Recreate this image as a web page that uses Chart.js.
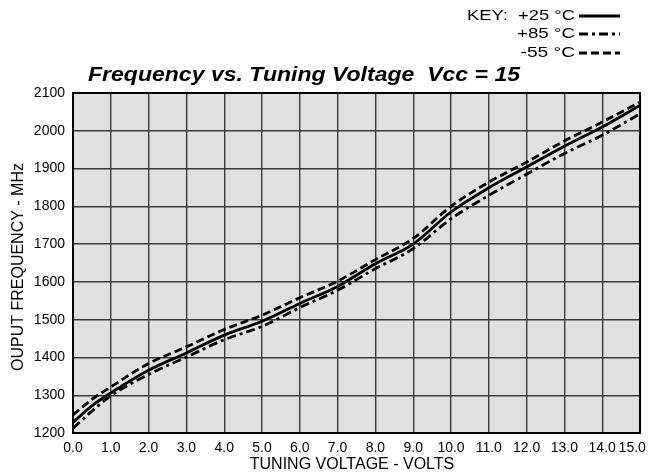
<!DOCTYPE html>
<html>
<head>
<meta charset="utf-8">
<script src="https://cdn.jsdelivr.net/npm/chart.js@4/dist/chart.umd.min.js"></script>
<style>
html,body{margin:0;padding:0;background:#fff;}
#wrap{width:648px;height:476px;position:relative;}
</style>
</head>
<body>
<div id="wrap"><canvas id="c" width="648" height="476"></canvas></div>
<script>
// ---- data ----
const voltage = [0, 0.5, 1, 2, 3, 4, 5, 6, 7, 8, 9, 10, 11, 12, 13, 14, 15];
const freq25 = [1228, 1272, 1306, 1366, 1412, 1459, 1496, 1543, 1588, 1648, 1700, 1785, 1849, 1904, 1959, 2010, 2067];
const freq85 = [1212, 1258, 1298, 1355, 1401, 1447, 1482, 1532, 1578, 1635, 1688, 1767, 1829, 1885, 1940, 1988, 2045];
const freqM55 = [1248, 1289, 1322, 1384, 1428, 1474, 1512, 1558, 1602, 1659, 1715, 1800, 1864, 1917, 1973, 2023, 2076];
const seriesLabels = ['+25 °C', '+85 °C', '-55 °C'];
const titleText = 'Frequency vs. Tuning Voltage  Vcc = 15';
const xTitle = 'TUNING VOLTAGE - VOLTS';
const yTitle = 'OUPUT FREQUENCY - MHz';

const tickFont = {family: "'Liberation Sans', Arial, Helvetica, sans-serif", size: 14};

function pts(arr){ return voltage.map((v,i)=>({x:v, y:arr[i]})); }

const dashes = [[], [9,4,3,4], [8,4]];

function stretchText(ctx, text, xRef, y, targetWidth, align){
  const w = ctx.measureText(text).width;
  const sx = targetWidth / w;
  ctx.save();
  ctx.translate(xRef, y);
  ctx.scale(sx, 1);
  ctx.textAlign = align;
  ctx.fillText(text, 0, 0);
  ctx.restore();
}

const bgPlugin = {
  id: 'bg',
  beforeDraw(chart){
    const {ctx, chartArea:a} = chart;
    ctx.save();
    ctx.fillStyle = '#e0e0e0';
    ctx.fillRect(a.left, a.top, a.right-a.left, a.bottom-a.top);
    ctx.restore();
  },
  afterDraw(chart){
    const {ctx, chartArea:a} = chart;
    ctx.save();
    ctx.strokeStyle = '#000';
    ctx.lineWidth = 2;
    ctx.strokeRect(a.left, a.top, a.right-a.left, a.bottom-a.top);
    // title
    ctx.fillStyle = '#000';
    ctx.font = "italic bold 20px 'Liberation Sans', Arial, sans-serif";
    ctx.textBaseline = 'alphabetic';
    stretchText(ctx, titleText, 88, 81, 432, 'left');
    // axis titles
    ctx.font = "16px 'Liberation Sans', Arial, sans-serif";
    ctx.textAlign = 'center';
    ctx.textBaseline = 'middle';
    ctx.fillText(xTitle, 352, 465);
    ctx.save();
    ctx.translate(19, (a.top+a.bottom)/2 + 4);
    ctx.rotate(-Math.PI/2);
    ctx.fillText(yTitle, 0, 0);
    ctx.restore();
    // key
    ctx.font = "15px 'Liberation Sans', Arial, sans-serif";
    ctx.textBaseline = 'middle';
    const rows = [15.5, 33.5, 52.5];
    const widths = [108, 58, 54.5];
    chart.data.datasets.forEach((ds, i) => {
      const y = rows[i];
      const label = (i===0 ? 'KEY:  ' : '') + ds.label;
      stretchText(ctx, label, 575, y, widths[i], 'right');
      ctx.beginPath();
      ctx.setLineDash(ds.borderDash || []);
      ctx.lineWidth = 3;
      ctx.strokeStyle = '#000';
      ctx.moveTo(579, y+0.5);
      ctx.lineTo(620, y+0.5);
      ctx.stroke();
    });
    ctx.restore();
  }
};

new Chart(document.getElementById('c'), {
  type: 'line',
  data: {
    datasets: [freq25, freq85, freqM55].map((arr, i) => ({
      label: seriesLabels[i],
      data: pts(arr),
      borderColor: '#000',
      borderWidth: 2.8,
      borderDash: dashes[i],
      pointRadius: 0,
      fill: false,
      cubicInterpolationMode: 'monotone'
    }))
  },
  options: {
    responsive: false,
    animation: false,
    devicePixelRatio: 1,
    layout: {padding: {top: 93, right: 8, left: 0, bottom: 0}},
    plugins: {legend: {display: false}, tooltip: {enabled: false}, title: {display: false}},
    scales: {
      x: {
        type: 'linear', min: 0, max: 15,
        ticks: {stepSize: 1, color: '#000', font: tickFont, padding: 7, maxRotation: 0, autoSkip: false,
          callback: v => Number(v).toFixed(1) + (v === 15 ? '\u2007\u2007' : '')},
        grid: {color: '#3a3a3a', lineWidth: 1.4, drawTicks: false},
        border: {display: true, color: '#000', width: 2},
        afterFit(s){ s.height = 43; s.paddingLeft = 0; s.paddingRight = 0; }
      },
      y: {
        type: 'linear', min: 1200, max: 2100,
        ticks: {stepSize: 100, color: '#000', font: tickFont, padding: 8,
          callback: v => String(v)},
        grid: {color: '#3a3a3a', lineWidth: 1.4, drawTicks: false},
        border: {display: true, color: '#000', width: 2},
        afterFit(s){ s.width = 73; s.paddingTop = 0; s.paddingBottom = 0; }
      }
    }
  },
  plugins: [bgPlugin]
});
</script>
</body>
</html>
